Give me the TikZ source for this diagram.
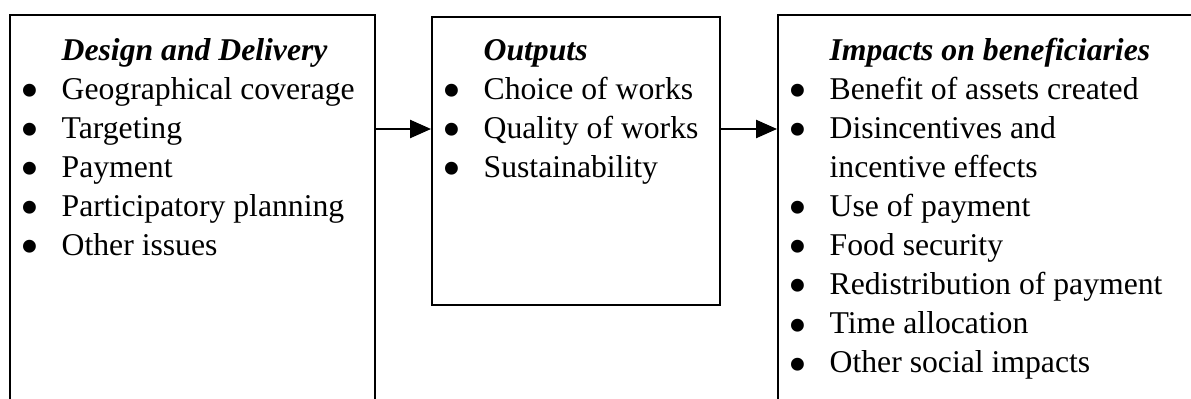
\documentclass[tikz,border=0pt]{standalone}
\usepackage{fontspec}
\setmainfont{Liberation Serif}
\usetikzlibrary{arrows.meta, positioning}
\newcommand{\flowTip}{{Triangle[length=7.4pt, width=6.4pt]}}
\newcommand{\bul}{\makebox[13.1pt][l]{\hspace*{-1.4pt}\raisebox{-3.4pt}{\fontsize{19pt}{19pt}\selectfont\textbullet}}}
\newcommand{\gap}{\hspace*{13.1pt}}

\begin{document}
\begin{tikzpicture}[x=0.3533pt, y=-0.3533pt, font=\fontsize{11.2pt}{13.8pt}\selectfont,
	panel/.style={draw, line width=0.7pt, rectangle, inner sep=0pt, anchor=north west},
	list/.style={align=left, inner sep=0pt, anchor=base west}]
	\def\PX{0.3533pt}
	\def\L{39.06}
	\useasboundingbox (0,0) rectangle (1191,398);
	\clip (0,0) rectangle (1191,398);
	
	% the three stages, outer two run off the page
	\node[panel, minimum width=365*\PX, minimum height=400*\PX] (design) at (9,14) {};
	\node[panel, minimum width=288*\PX, minimum height=288*\PX] (outputs) at (431,16) {};
	\node[panel, minimum width=430*\PX, minimum height=400*\PX] (impacts) at (777,14) {};
	
	% lists hang from their last baseline
	\node[list] (designlist) at (24,60+5*\L) {\gap\textbf{\textit{Design and Delivery}}\\
		\bul Geographical coverage\\
		\bul Targeting\\
		\bul Payment\\
		\bul Participatory planning\\
		\bul Other issues};
	\node[list] (outputslist) at (446,60+3*\L) {\gap\textbf{\textit{Outputs}}\\
		\bul Choice of works\\
		\bul Quality of works\\
		\bul Sustainability};
	\node[list] (impactslist) at (792,60+8*\L) {\gap\textbf{\textit{Impacts on beneficiaries}}\\
		\bul Benefit of assets created\\
		\bul Disincentives and\\
		\gap incentive effects\\
		\bul Use of payment\\
		\bul Food security\\
		\bul Redistribution of payment\\
		\bul Time allocation\\
		\bul Other social impacts};
	
	\coordinate (flow) at (0,129);
	\draw[line width=0.7pt, -\flowTip] (design.east |- flow) -- (outputs.west |- flow);
	\draw[line width=0.7pt, -\flowTip] (outputs.east |- flow) -- (impacts.west |- flow);
	
\end{tikzpicture}
\end{document}
